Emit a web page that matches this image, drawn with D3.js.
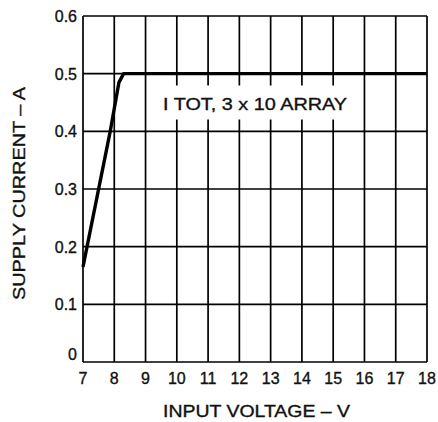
<!DOCTYPE html>
<html>
<head>
<meta charset="utf-8">
<script src="https://cdn.jsdelivr.net/npm/d3@7"></script>
<style>
  body { margin: 0; background: #fff; }
  text { font-family: "Liberation Sans", Arial, sans-serif; fill: #111; stroke: #111; stroke-width: 0.35px; }
</style>
</head>
<body>
<div id="root"></div>
<script>
// data
const voltage = [7, 7.87, 8.15, 8.3, 18];
const current = [0.165, 0.4, 0.485, 0.5, 0.5];
const xTicks = [7, 8, 9, 10, 11, 12, 13, 14, 15, 16, 17, 18];
const yTicks = [0, 0.1, 0.2, 0.3, 0.4, 0.5, 0.6];
const yTickLabels = ['0', '0.1', '0.2', '0.3', '0.4', '0.5', '0.6'];
const note = 'I TOT, 3 x 10 ARRAY';

const W = 438, H = 422;
const m = { left: 83, right: 11, top: 16, bottom: 60 };

const svg = d3.select('#root').append('svg')
  .attr('width', W).attr('height', H);

const x = d3.scaleLinear().domain([7, 18]).range([m.left, W - m.right]);
const y = d3.scaleLinear().domain([0, 0.6]).range([H - m.bottom, m.top]);

// grid
svg.append('g').selectAll('line').data(xTicks).enter().append('line')
  .attr('x1', d => x(d)).attr('x2', d => x(d))
  .attr('y1', y(0)).attr('y2', y(0.6))
  .attr('stroke', '#000').attr('stroke-width', 1.7);
svg.append('g').selectAll('line').data(yTicks).enter().append('line')
  .attr('x1', x(7)).attr('x2', x(18))
  .attr('y1', d => y(d)).attr('y2', d => y(d))
  .attr('stroke', '#000').attr('stroke-width', 1.7);

// note with white backing box
const ny = y(0.45);
svg.append('rect')
  .attr('x', 157).attr('y', ny - 17)
  .attr('width', 193).attr('height', 34)
  .attr('fill', '#fff');
svg.append('text')
  .attr('x', 163).attr('y', ny + 7)
  .attr('font-size', 17)
  .attr('textLength', 184).attr('lengthAdjust', 'spacingAndGlyphs')
  .text(note);

// curve
const line = d3.line().x(d => x(d[0])).y(d => y(d[1]));
svg.append('path')
  .datum(d3.zip(voltage, current))
  .attr('d', line)
  .attr('fill', 'none').attr('stroke', '#000')
  .attr('stroke-width', 3.4).attr('stroke-linejoin', 'round');

// tick labels
svg.append('g').selectAll('text').data(xTicks).enter().append('text')
  .attr('x', d => x(d)).attr('y', y(0) + 22)
  .attr('text-anchor', 'middle').attr('font-size', 16)
  .text(d => d);
svg.append('g').selectAll('text').data(yTicks).enter().append('text')
  .attr('x', x(7) - 6)
  .attr('y', (d, i) => i === 0 ? y(d) - 2 : y(d) + 6)
  .attr('text-anchor', 'end').attr('font-size', 16)
  .text((d, i) => yTickLabels[i]);

// axis titles
svg.append('text')
  .attr('x', 163).attr('y', 417)
  .attr('font-size', 17)
  .attr('textLength', 187).attr('lengthAdjust', 'spacingAndGlyphs')
  .text('INPUT VOLTAGE \u2013 V');
svg.append('text')
  .attr('transform', 'translate(25,300) rotate(-90)')
  .attr('font-size', 17)
  .attr('textLength', 213).attr('lengthAdjust', 'spacingAndGlyphs')
  .text('SUPPLY CURRENT \u2013 A');
</script>
</body>
</html>
